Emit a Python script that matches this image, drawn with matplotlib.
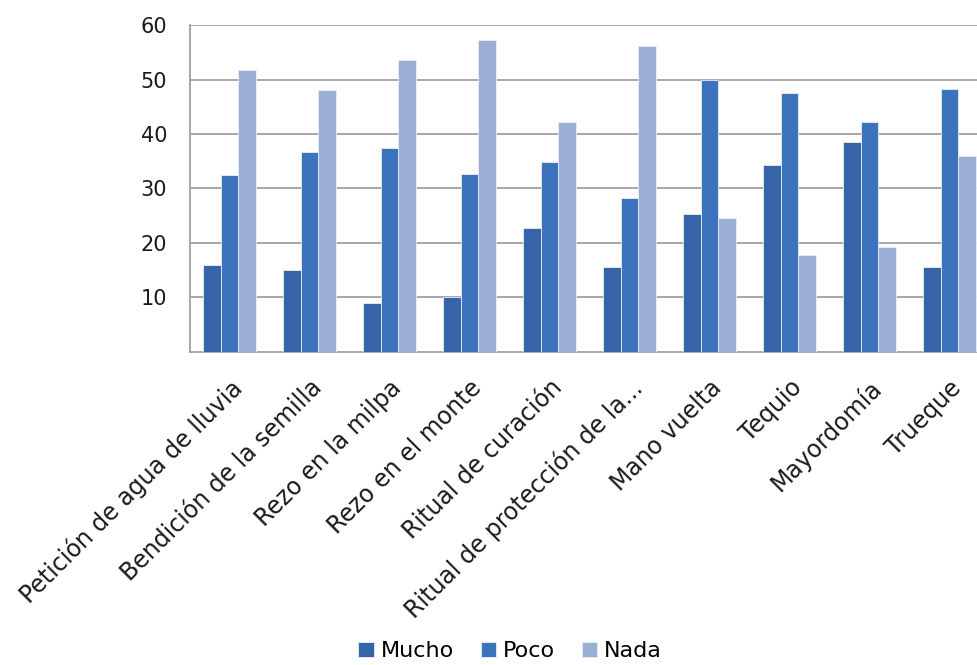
import matplotlib
matplotlib.use("Agg")
import matplotlib.pyplot as plt
import numpy as np

categories = ["Petición de agua de lluvia", "Bendición de la semilla", "Rezo en la milpa",
              "Rezo en el monte", "Ritual de curación", "Ritual de protección de la...",
              "Mano vuelta", "Tequio", "Mayordomía", "Trueque"]
mucho = [16.0, 15.1, 9.0, 10.1, 22.8, 15.6, 25.3, 34.4, 38.5, 15.6]
poco = [32.4, 36.7, 37.4, 32.6, 34.9, 28.3, 49.9, 47.6, 42.2, 48.3]
nada = [51.7, 48.1, 53.5, 57.2, 42.2, 56.1, 24.6, 17.8, 19.2, 36.0]
series_names = ["Mucho", "Poco", "Nada"]
colors = ["#3565A8", "#3D73BC", "#9BAED6"]
yticks = [10, 20, 30, 40, 50, 60]

plt.rcParams['font.family'] = ['DejaVu Sans']

W, H = 977, 665
fig = plt.figure(figsize=(W / 100, H / 100), dpi=100)
left, right, top, bottom = 189.5, 989.5, 25, 352
ax = fig.add_axes([left / W, 1 - bottom / H, (right - left) / W, (bottom - top) / H])

x = np.arange(len(categories))
bw = 0.22
for i, (vals, name, c) in enumerate(zip([mucho, poco, nada], series_names, colors)):
    ax.bar(x + (i - 1) * bw, vals, width=bw, color=c, edgecolor="#E8EEF8",
           linewidth=0.6, label=name, zorder=3)

ax.set_xlim(-0.5, len(categories) - 0.5)
ax.set_ylim(0, 60)
ax.set_yticks(yticks)
ax.set_yticklabels([str(t) for t in yticks], fontsize=15, color="#1a1a1a")
ax.yaxis.grid(True, color="#A0A0A0", linewidth=1.3, zorder=0)
ax.set_axisbelow(True)
ax.tick_params(axis='y', length=0, pad=16)
ax.tick_params(axis='x', length=0, pad=17)
ax.set_xticks(x)
ax.set_xticklabels(categories, rotation=45, ha='right', rotation_mode='anchor',
                   fontsize=17, color="#1a1a1a")
for s in ["top", "right"]:
    ax.spines[s].set_visible(False)
for s in ["left", "bottom"]:
    ax.spines[s].set_color("#A0A0A0")
    ax.spines[s].set_linewidth(1.3)

ax.legend(loc='lower center', bbox_to_anchor=(510 / W, -0.008), bbox_transform=fig.transFigure,
          ncol=3, frameon=False, fontsize=16, handlelength=0.7, handleheight=0.7,
          handletextpad=0.3, columnspacing=1.2, borderaxespad=0)

fig.savefig("out.png", dpi=100)
